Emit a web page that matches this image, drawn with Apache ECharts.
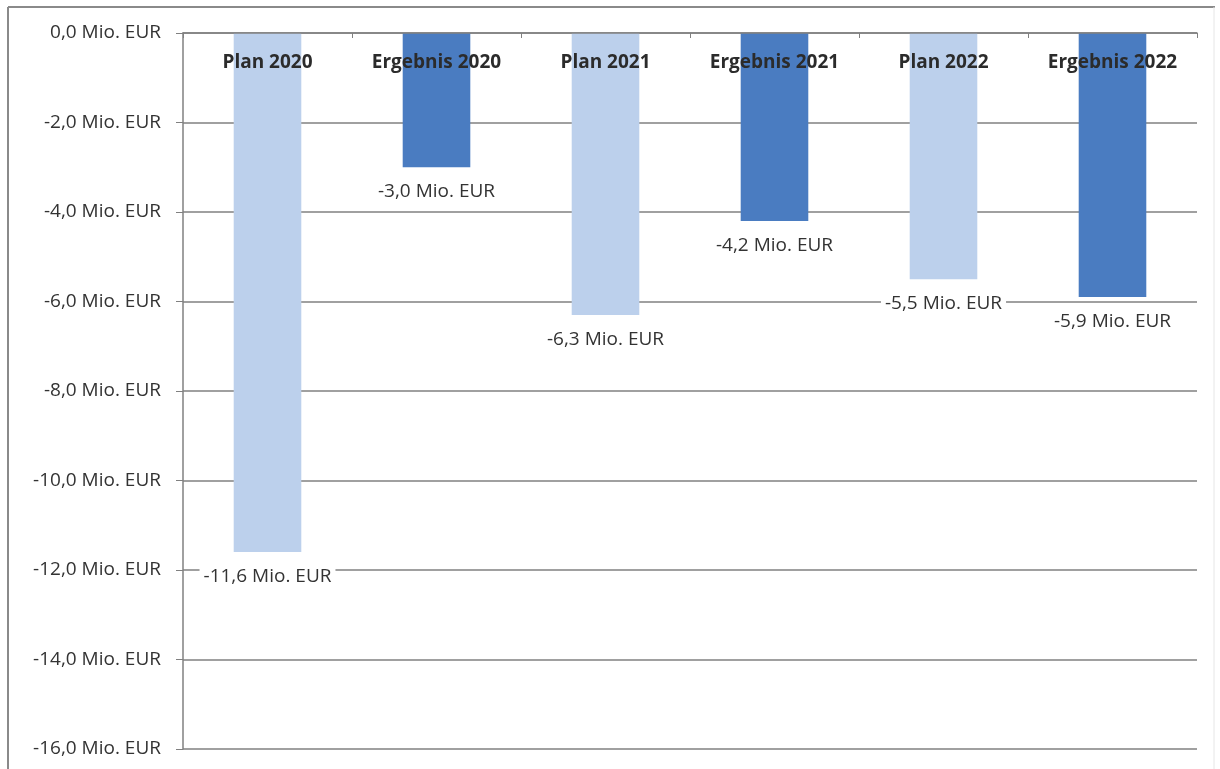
<!DOCTYPE html>
<html>
<head>
<meta charset="utf-8">
<script src="https://cdn.jsdelivr.net/npm/echarts@6/dist/echarts.min.js"></script>
<style>
  html, body { margin: 0; padding: 0; background: #fff; }
  #chart { width: 1220px; height: 769px; }
</style>
</head>
<body>
<div id="chart"></div>
<script>
// Plan vs. Ergebnis, Mio. EUR
const categories = ['Plan 2020', 'Ergebnis 2020', 'Plan 2021', 'Ergebnis 2021', 'Plan 2022', 'Ergebnis 2022'];
const values = [-11.6, -3.0, -6.3, -4.2, -5.5, -5.9];
const yMin = -16;
const yMax = 0;
const yStep = 2;

const PLAN_COLOR = '#bcd0ec';
const RESULT_COLOR = '#4a7cc1';
const FONT = '"Open Sans", Lato, sans-serif';

const fmt = v => v.toFixed(1).replace('.', ',') + ' Mio. EUR';

const chart = echarts.init(document.getElementById('chart'));
chart.setOption({
  animation: false,
  backgroundColor: '#fff',
  textStyle: { fontFamily: FONT },
  grid: { left: 183, right: 23, top: 33, bottom: 20 },
  graphic: [
    { type: 'line', shape: { x1: 8, y1: 7, x2: 1215, y2: 7 }, style: { stroke: '#8a8a8a', lineWidth: 2 } },
    { type: 'line', shape: { x1: 8, y1: 7, x2: 8, y2: 769 }, style: { stroke: '#8a8a8a', lineWidth: 2 } },
    { type: 'line', shape: { x1: 1214, y1: 7, x2: 1214, y2: 769 }, style: { stroke: '#e6e6e6', lineWidth: 1 } }
  ],
  xAxis: {
    type: 'category',
    position: 'top',
    data: categories,
    z: 10,
    axisLine: { show: true, lineStyle: { color: '#808080', width: 1.5 } },
    axisTick: { show: true, inside: true, length: 5, lineStyle: { color: '#808080' } },
    axisLabel: {
      inside: true,
      margin: 20,
      color: '#2b2b2b',
      fontWeight: 'bold',
      fontSize: 19,
      fontFamily: FONT
    }
  },
  yAxis: {
    type: 'value',
    min: yMin,
    max: yMax,
    interval: yStep,
    axisLine: { show: true, lineStyle: { color: '#808080', width: 1.5 } },
    axisTick: { show: true, length: 7, lineStyle: { color: '#808080' } },
    splitLine: { show: true, lineStyle: { color: '#808080', width: 1.5 } },
    axisLabel: {
      formatter: fmt,
      color: '#333',
      fontSize: 19,
      margin: 22,
      fontFamily: FONT
    }
  },
  series: [{
    type: 'bar',
    data: values,
    barWidth: '40%',
    itemStyle: {
      color: p => categories[p.dataIndex].startsWith('Plan') ? PLAN_COLOR : RESULT_COLOR
    },
    label: {
      show: true,
      position: 'bottom',
      distance: 13,
      formatter: p => fmt(p.value),
      color: '#333',
      fontSize: 19,
      fontFamily: FONT,
      backgroundColor: '#fff',
      padding: [2, 4]
    }
  }]
});
</script>
</body>
</html>
